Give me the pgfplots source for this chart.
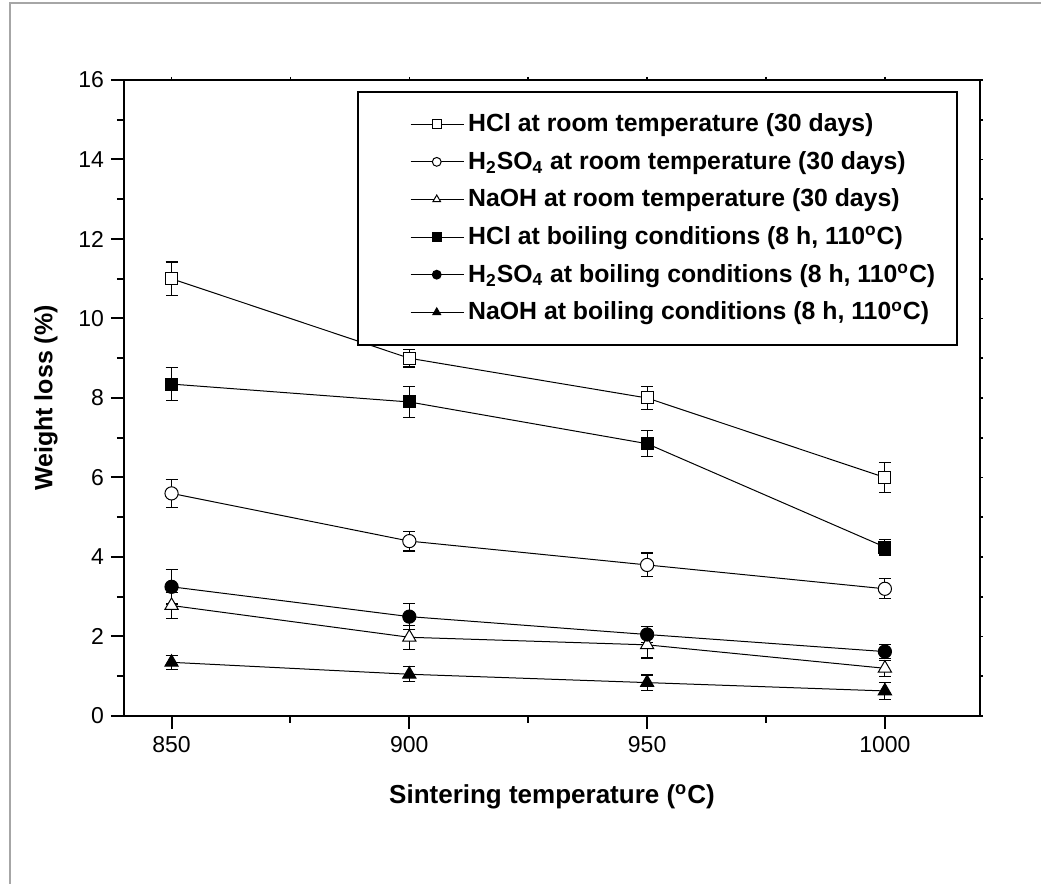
\documentclass[border=0pt]{standalone}
\usepackage{fontspec}
\setmainfont{Liberation Sans}
\usepackage{pgfplots}
\pgfplotsset{compat=1.18}
\begin{document}
\begin{tikzpicture}[x=1pt,y=1pt]
\useasboundingbox (0,0) rectangle (520.5,442);
\draw[gray!70, line width=0.8pt] (5,0) -- (5,440.5) -- (520.5,440.5);
\begin{axis}[
 at={(62pt,84pt)}, anchor=south west,
 scale only axis, width=428pt, height=318pt,
 xmin=840, xmax=1020, ymin=0, ymax=16,
 xtick={850,900,950,1000}, minor xtick={875,925,975},
 ytick={0,2,...,16}, minor ytick={1,3,...,15},
 tick align=outside, xtick pos=right, ytick pos=right,
 major tick length=1.5pt, minor tick length=1.5pt,
 xticklabels={}, yticklabels={},
 axis line style={line width=1pt},
 every tick/.style={black, line width=0.8pt},
]
\end{axis}
\begin{axis}[
 at={(62pt,84pt)}, anchor=south west,
 scale only axis, width=428pt, height=318pt,
 xmin=840, xmax=1020, ymin=0, ymax=16,
 xtick={850,900,950,1000}, minor xtick={875,925,975},
 ytick={0,2,...,16}, minor ytick={1,3,...,15},
 tick align=outside, xtick pos=left, ytick pos=left,
 major tick length=6.5pt, minor tick length=3.5pt,
 axis line style={line width=1pt},
 every tick/.style={black, line width=1pt},
 ticklabel style={font=\fontsize{11.5}{13}\selectfont},
 /pgf/number format/assume math mode=true,
 /pgf/number format/set thousands separator={},
 xlabel={Sintering temperature (\textsuperscript{o}C)},
 ylabel={Weight loss (\%)},
 every axis x label/.style={at={(axis description cs:0.5,-0.127)}, anchor=center,
   font=\bfseries\fontsize{13}{15}\selectfont},
 every axis y label/.style={at={(axis description cs:-0.0911,0.5)}, rotate=90, anchor=center,
   font=\bfseries\fontsize{12.5}{15}\selectfont},
 legend style={at={(axis description cs:1,1)}, anchor=north east, xshift=-11pt, yshift=-5.5pt,
   draw=black, line width=0.8pt, font=\bfseries\fontsize{12.4}{14}\selectfont,
   inner xsep=9pt, inner ysep=9pt, row sep=4.3pt},
 legend cell align=left,
 legend image code/.code={\path (-17pt,0pt); \draw[#1, mark repeat=2, mark phase=2, mark size=2.2pt] plot coordinates {(0pt,0pt) (13pt,0pt) (26.5pt,0pt)};},
 every axis plot/.append style={black, line width=0.5pt},
 error bars/error mark options={rotate=90, mark size=3pt, line width=0.6pt},
]
\addplot[mark=square*, mark options={fill=white}, mark size=3pt,
  error bars/.cd, y dir=both, y explicit]
  table[x=x, y=y, y error=e] {
x y e
850 11.0 0.42
900 9.0 0.22
950 8.0 0.29
1000 6.0 0.38
};
\addlegendentry{HCl at room temperature (30 days)}
\addplot[mark=*, mark options={fill=white}, mark size=3.3pt,
  error bars/.cd, y dir=both, y explicit]
  table[x=x, y=y, y error=e] {
x y e
850 5.6 0.35
900 4.4 0.25
950 3.8 0.3
1000 3.2 0.25
};
\addlegendentry{H\textsubscript{2}SO\textsubscript{4} at room temperature (30 days)}
\addplot[mark=triangle*, mark options={fill=white}, mark size=3.8pt,
  error bars/.cd, y dir=both, y explicit]
  table[x=x, y=y, y error=e] {
x y e
850 2.78 0.33
900 1.98 0.3
950 1.79 0.33
1000 1.2 0.2
};
\addlegendentry{NaOH at room temperature (30 days)}
\addplot[mark=square*, mark options={fill=black}, mark size=3pt,
  error bars/.cd, y dir=both, y explicit]
  table[x=x, y=y, y error=e] {
x y e
850 8.35 0.42
900 7.9 0.39
950 6.85 0.33
1000 4.25 0.2
};
\addlegendentry{HCl at boiling conditions (8 h, 110\textsuperscript{o}C)}
\addplot[mark=*, mark options={fill=black}, mark size=3.3pt,
  error bars/.cd, y dir=both, y explicit]
  table[x=x, y=y, y error=e] {
x y e
850 3.25 0.43
900 2.5 0.33
950 2.05 0.2
1000 1.62 0.17
};
\addlegendentry{H\textsubscript{2}SO\textsubscript{4} at boiling conditions (8 h, 110\textsuperscript{o}C)}
\addplot[mark=triangle*, mark options={fill=black}, mark size=3.8pt,
  error bars/.cd, y dir=both, y explicit]
  table[x=x, y=y, y error=e] {
x y e
850 1.35 0.18
900 1.05 0.19
950 0.84 0.19
1000 0.63 0.22
};
\addlegendentry{NaOH at boiling conditions (8 h, 110\textsuperscript{o}C)}
\end{axis}
\end{tikzpicture}
\end{document}
